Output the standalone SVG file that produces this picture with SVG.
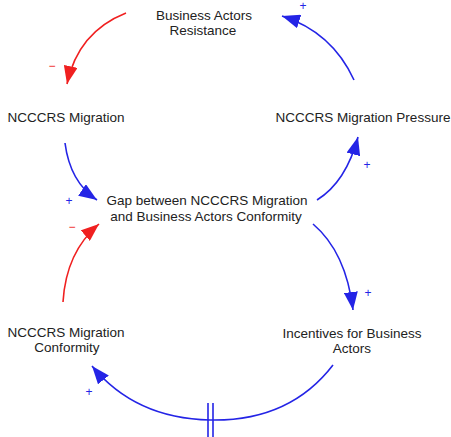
<svg xmlns="http://www.w3.org/2000/svg" width="451" height="437" viewBox="0 0 451 437">
<style>
  text { font-family: "Liberation Sans", Arial, sans-serif; font-size: 13.5px; fill: #222; text-anchor: middle; }
  .pol { font-size: 12px; }
  .b { stroke: #2424e6; fill: none; stroke-width: 1.6; }
  .r { stroke: #f02020; fill: none; stroke-width: 1.6; }
  .bt { fill: #2424e6; }
  .rt { fill: #f02020; }
</style>
<defs>
  <marker id="ab" viewBox="0 0 18 14" refX="18" refY="7" markerWidth="18" markerHeight="14" markerUnits="userSpaceOnUse" orient="auto">
    <path d="M0,0 L18,7 L0,14 z" fill="#2424e6"/>
  </marker>
  <marker id="ar" viewBox="0 0 18 14" refX="18" refY="7" markerWidth="18" markerHeight="14" markerUnits="userSpaceOnUse" orient="auto">
    <path d="M0,0 L18,7 L0,14 z" fill="#f02020"/>
  </marker>
</defs>
<g id="connectors">
  <path class="r" d="M126,13 Q78,32 67,84" marker-end="url(#ar)"/>
  <text class="pol rt" x="52" y="70">−</text>
  <path class="b" d="M354,80 Q332,32 282,16" marker-end="url(#ab)"/>
  <text class="pol bt" x="303" y="10">+</text>
  <path class="b" d="M65,143 Q70,182 97,200" marker-end="url(#ab)"/>
  <text class="pol bt" x="69" y="205">+</text>
  <path class="r" d="M63,302 Q66,252 99,224" marker-end="url(#ar)"/>
  <text class="pol rt" x="72" y="231">−</text>
  <path class="b" d="M317,200 Q346,182 358,137" marker-end="url(#ab)"/>
  <text class="pol bt" x="367" y="169">+</text>
  <path class="b" d="M313,224 Q346,252 353,310" marker-end="url(#ab)"/>
  <text class="pol bt" x="368" y="297">+</text>
  <path class="b" d="M333,365 C300,408 255,421 210,420 C160,419 120,400 92,366" marker-end="url(#ab)"/>
  <text class="pol bt" x="89" y="396">+</text>
  <line class="b" x1="208" y1="403" x2="208" y2="437"/>
  <line class="b" x1="213" y1="403" x2="213" y2="437"/>
</g>
<g id="resistance">
  <text x="204" y="20">Business Actors</text>
  <text x="203" y="35">Resistance</text>
</g>
<g id="migration">
  <text x="66" y="122">NCCCRS Migration</text>
</g>
<g id="pressure">
  <text x="363" y="122">NCCCRS Migration Pressure</text>
</g>
<g id="gap">
  <text x="207" y="205">Gap between NCCCRS Migration</text>
  <text x="206" y="221">and Business Actors Conformity</text>
</g>
<g id="conformity">
  <text x="66" y="337">NCCCRS Migration</text>
  <text x="67" y="352">Conformity</text>
</g>
<g id="incentives">
  <text x="352" y="338">Incentives for Business</text>
  <text x="352" y="353">Actors</text>
</g>
</svg>
